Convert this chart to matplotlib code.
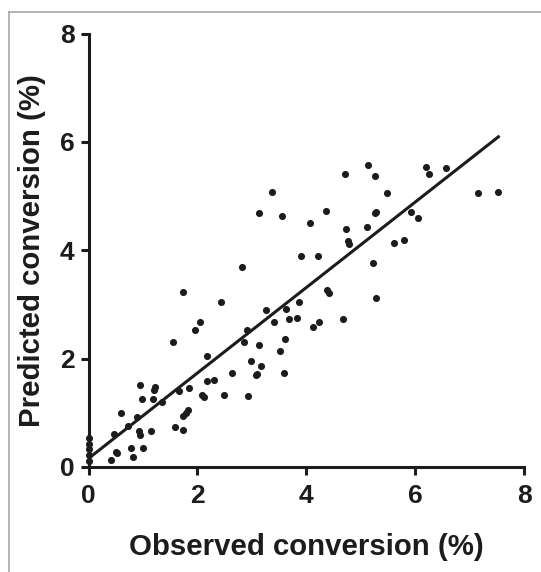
import numpy as np
import matplotlib
matplotlib.use("Agg")
import matplotlib.pyplot as plt
from matplotlib.lines import Line2D

# observed vs predicted conversion (%)
observed = [0, 0, 0, 0, 0,
            1.74, 2.44, 2.05, 1.96, 1.56, 2.18, 2.64, 2.17, 2.31, 0.95,
            1.22, 1.20, 1.66, 1.85, 0.98, 1.19, 1.35, 2.08, 2.13, 2.49,
            0.60, 0.89, 0.72, 1.83, 1.79, 1.73, 1.59, 1.74, 0.92, 0.95,
            1.14, 0.46, 1.01, 0.78, 0.81, 0.51, 0.53, 0.41,
            3.38, 3.14, 3.55, 4.36, 4.06, 4.73, 5.11, 5.27, 5.28, 4.76,
            4.79, 2.82, 3.90, 4.21, 5.22, 4.38, 4.42, 5.29, 3.26, 3.63,
            3.87, 2.91, 3.41, 3.69, 3.83, 4.24, 4.12, 4.67, 2.85, 3.14,
            3.61, 3.51, 2.99, 3.17, 3.10, 3.08, 3.59, 2.93,
            4.72, 5.14, 5.27, 5.49, 6.20, 6.26, 6.56, 7.15, 7.53, 5.92,
            6.05, 5.61, 5.79]
predicted = [0.53, 0.42, 0.33, 0.22, 0.11,
             3.23, 3.04, 2.68, 2.52, 2.31, 2.04, 1.73, 1.59, 1.60, 1.52,
             1.48, 1.43, 1.41, 1.46, 1.26, 1.26, 1.20, 1.32, 1.30, 1.33,
             1.00, 0.93, 0.76, 1.05, 1.00, 0.95, 0.73, 0.69, 0.66, 0.59,
             0.66, 0.61, 0.35, 0.35, 0.18, 0.28, 0.26, 0.13,
             5.07, 4.69, 4.64, 4.72, 4.51, 4.40, 4.42, 4.68, 4.71, 4.17,
             4.11, 3.70, 3.89, 3.89, 3.76, 3.26, 3.22, 3.11, 2.90, 2.92,
             3.04, 2.53, 2.68, 2.74, 2.75, 2.68, 2.58, 2.74, 2.30, 2.26,
             2.36, 2.14, 1.96, 1.87, 1.72, 1.70, 1.73, 1.31,
             5.41, 5.57, 5.37, 5.05, 5.54, 5.41, 5.52, 5.05, 5.07, 4.70,
             4.60, 4.13, 4.18]
ticks = [0, 2, 4, 6, 8]

obs = np.array(observed)
pred = np.array(predicted)

plt.rcParams["font.family"] = ["Liberation Sans", "DejaVu Sans"]
plt.rcParams["font.weight"] = "bold"

fig = plt.figure(figsize=(5.41, 5.72), dpi=100)
ax = fig.add_axes([88.5 / 541, 105 / 572, 435.5 / 541, 433.5 / 572])

ink = "#1c1c1c"
ax.scatter(obs, pred, s=26, color=ink, zorder=3, clip_on=False, linewidths=0)

# linear regression line
k, b = np.polyfit(obs, pred, 1)
xs = np.array([0, obs.max()])
ax.plot(xs, k * xs + b, color=ink, lw=2.2, zorder=2)

ax.set_xlim(0, 8)
ax.set_ylim(0, 8)
ax.set_xticks(ticks)
ax.set_yticks(ticks)
for side in ["top", "right"]:
    ax.spines[side].set_visible(False)
for side in ["left", "bottom"]:
    ax.spines[side].set_linewidth(2.2)
    ax.spines[side].set_color(ink)
ax.tick_params(length=6, width=2.2, color=ink, labelsize=19, pad=4, labelcolor=ink)
ax.tick_params(axis="x", pad=6)
for lab in ax.get_xticklabels() + ax.get_yticklabels():
    lab.set_fontweight("bold")

ax.set_xlabel("Observed conversion (%)", fontsize=21.2, fontweight="bold", color=ink, labelpad=18)
ax.set_ylabel("Predicted conversion (%)", fontsize=21.2, fontweight="bold", color=ink, labelpad=10)

# panel border (top and left edges of the frame)
fig.add_artist(Line2D([8.5 / 541, 1], [1 - 12 / 572, 1 - 12 / 572], color="#a8a8a8", lw=1.2))
fig.add_artist(Line2D([8.5 / 541, 8.5 / 541], [0, 1 - 12 / 572], color="#a8a8a8", lw=1.2))

fig.savefig("out.png", dpi=100)
